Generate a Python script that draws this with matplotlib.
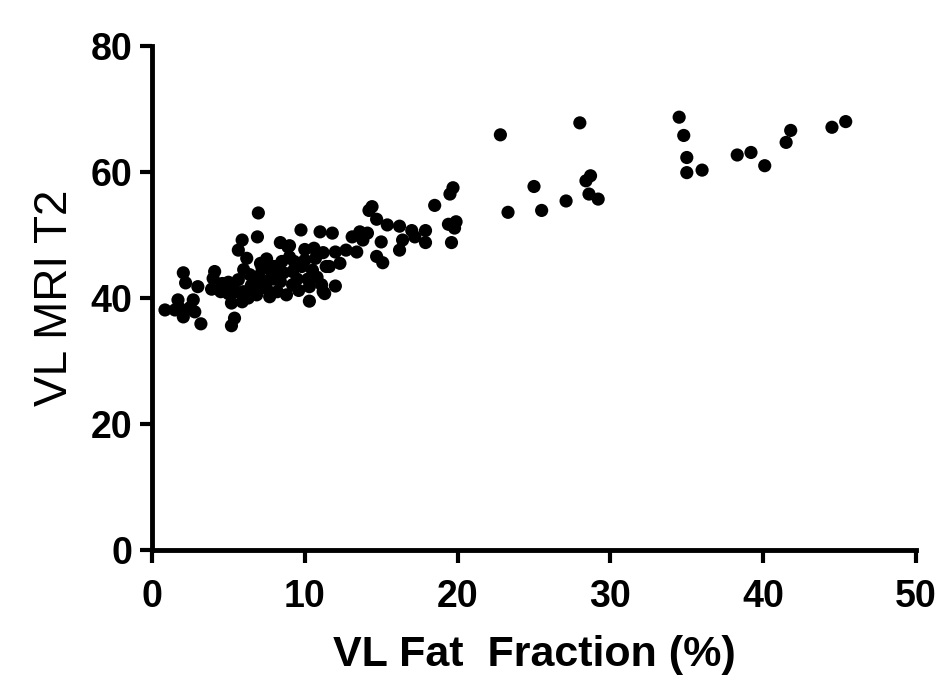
import matplotlib
matplotlib.use("Agg")
import matplotlib.pyplot as plt

fat_fraction = [
    22.8, 28.0, 19.7, 19.5, 25.0, 28.7, 28.4, 28.6, 29.2, 27.1, 25.5, 23.3, 18.5, 19.4, 19.9, 19.8, 17.9, 17.9, 19.6,
    34.5, 34.8, 35.0, 35.0, 36.0, 38.3, 39.2, 40.1, 41.8, 41.5, 44.5, 45.4,
    14.4, 14.2, 14.7, 15.4, 16.2, 17.0, 16.4, 16.2, 17.2, 15.0, 14.7, 15.1, 11.8, 13.1, 13.6, 14.1, 13.8, 12.0, 12.7,
    13.4, 12.3, 11.6, 12.0,
    9.75, 11.0, 6.9, 5.9, 8.4, 9.0, 10.0, 10.6, 11.2, 6.2, 7.1, 8.5, 9.2, 9.8, 10.5, 7.8, 6.4, 7.4, 8.4, 9.2, 10.3,
    11.1, 6.0, 6.85, 7.7, 8.8, 11.2, 10.3, 5.9, 6.96, 5.65, 8.9, 11.4, 11.3,
    2.05, 2.2, 3.0, 4.1, 4.0, 3.9, 4.6, 5.1, 5.65, 5.2, 5.0, 0.85, 1.7, 1.8, 2.05, 2.7, 2.8, 1.5, 3.2, 5.2, 5.4, 2.5,
    6.5, 7.0, 7.5, 8.0, 8.6, 9.5, 10.0, 6.0, 5.5, 7.2, 8.2, 9.6, 10.8, 4.5, 6.3, 9.0, 7.0, 10.7,
    5.0, 6.8, 8.0, 9.3, 7.5, 10.2,
]
mri_t2 = [
    65.9, 67.8, 57.5, 56.5, 57.7, 59.4, 58.6, 56.5, 55.7, 55.4, 53.9, 53.6, 54.7, 51.7, 52.1, 51.1, 50.7, 48.8, 48.8,
    68.7, 65.8, 62.3, 59.9, 60.3, 62.7, 63.1, 61.0, 66.6, 64.7, 67.1, 68.0,
    54.5, 53.9, 52.5, 51.6, 51.4, 50.7, 49.2, 47.6, 49.7, 48.9, 46.6, 45.6, 50.3, 49.7, 50.5, 50.3, 49.2, 47.3, 47.6,
    47.3, 45.5, 45.0, 41.9,
    50.8, 50.5, 49.7, 49.2, 48.8, 48.3, 47.7, 47.9, 47.2, 46.3, 45.5, 45.8, 44.2, 45.0, 44.4, 44.2, 43.7, 42.6, 42.6, 42.1, 41.8,
    42.1, 41.0, 40.5, 40.2, 40.5, 41.0, 39.5, 39.4, 53.5, 47.6, 48.1, 45.0, 40.7,
    44.0, 42.4, 41.8, 44.2, 43.1, 41.4, 42.3, 41.8, 42.9, 39.2, 40.7, 38.1, 39.7, 38.4, 37.0, 39.7, 37.8, 38.1, 35.9, 35.6, 36.8, 38.5,
    42.0, 43.5, 41.5, 43.0, 44.0, 43.0, 46.0, 44.5, 41.0, 44.8, 41.0, 41.2, 43.3, 41.0, 40.0, 46.5, 42.0, 46.3,
    42.5, 41.2, 45.0, 45.8, 46.2, 43.0,
]
x_ticks = [0, 10, 20, 30, 40, 50]
y_ticks = [0, 20, 40, 60, 80]

plt.rcParams['font.family'] = ['Liberation Sans', 'DejaVu Sans']

fig = plt.figure(figsize=(9.37, 6.84), dpi=100)
ax = fig.add_axes([152/937, 1 - 550/684, (916-152)/937, (550-46)/684])

ax.scatter(fat_fraction, mri_t2, s=90, color='black', edgecolors='none', clip_on=False, zorder=3)

ax.set_xlim(0, 50)
ax.set_ylim(0, 80)
ax.set_xticks(x_ticks)
ax.set_yticks(y_ticks)
ax.set_xticklabels([str(t) for t in x_ticks], fontsize=27, fontweight='bold')
ax.set_yticklabels([str(t) for t in y_ticks], fontsize=27, fontweight='bold')

for s in ['top', 'right']:
    ax.spines[s].set_visible(False)
for s in ['left', 'bottom']:
    ax.spines[s].set_linewidth(3.5)
ax.tick_params(width=3, length=9, direction='out', pad=5)
ax.tick_params(axis='x', pad=12)

ax.set_xlabel('VL Fat  Fraction (%)', fontsize=31, fontweight='bold', labelpad=14)
ax.set_ylabel('VL MRI T2', fontsize=33, labelpad=10)

fig.savefig('out.png', dpi=100)
